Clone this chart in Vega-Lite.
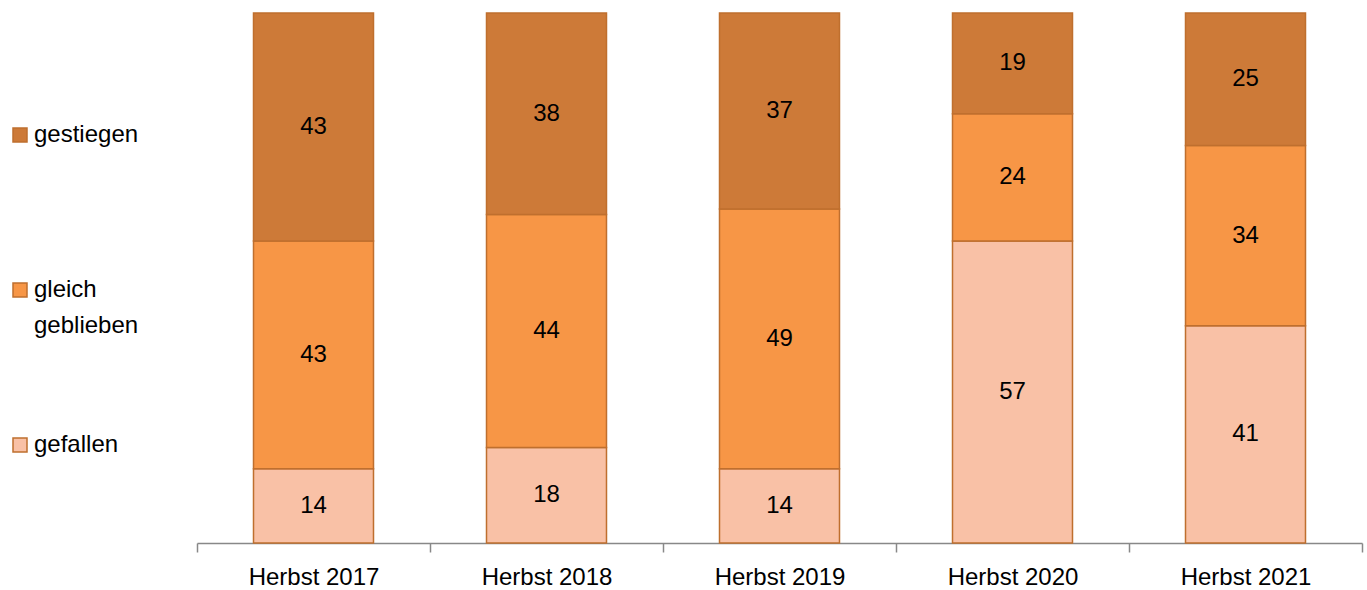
{
  "$schema": "https://vega.github.io/schema/vega-lite/v6.json",
  "width": 1165,
  "height": 530,
  "autosize": {"type": "none"},
  "padding": {"left": 197, "top": 13, "right": 5, "bottom": 47},
  "background": "white",
  "config": {
    "view": {"stroke": null},
    "font": "Liberation Sans",
    "style": {"guide-label": {"lineHeight": 36}}
  },
  "data": {
    "values": [
      {"periode": "Herbst 2017", "kategorie": "gefallen", "ord": 1, "wert": 14},
      {"periode": "Herbst 2017", "kategorie": "gleich geblieben", "ord": 2, "wert": 43},
      {"periode": "Herbst 2017", "kategorie": "gestiegen", "ord": 3, "wert": 43},
      {"periode": "Herbst 2018", "kategorie": "gefallen", "ord": 1, "wert": 18},
      {"periode": "Herbst 2018", "kategorie": "gleich geblieben", "ord": 2, "wert": 44},
      {"periode": "Herbst 2018", "kategorie": "gestiegen", "ord": 3, "wert": 38},
      {"periode": "Herbst 2019", "kategorie": "gefallen", "ord": 1, "wert": 14},
      {"periode": "Herbst 2019", "kategorie": "gleich geblieben", "ord": 2, "wert": 49},
      {"periode": "Herbst 2019", "kategorie": "gestiegen", "ord": 3, "wert": 37},
      {"periode": "Herbst 2020", "kategorie": "gefallen", "ord": 1, "wert": 57},
      {"periode": "Herbst 2020", "kategorie": "gleich geblieben", "ord": 2, "wert": 24},
      {"periode": "Herbst 2020", "kategorie": "gestiegen", "ord": 3, "wert": 19},
      {"periode": "Herbst 2021", "kategorie": "gefallen", "ord": 1, "wert": 41},
      {"periode": "Herbst 2021", "kategorie": "gleich geblieben", "ord": 2, "wert": 34},
      {"periode": "Herbst 2021", "kategorie": "gestiegen", "ord": 3, "wert": 25}
    ]
  },
  "transform": [
    {"stack": "wert", "groupby": ["periode"], "sort": [{"field": "ord", "order": "ascending"}], "as": ["y0", "y1"]},
    {"calculate": "(datum.y0 + datum.y1) / 2", "as": "ymid"}
  ],
  "encoding": {
    "x": {
      "field": "periode",
      "type": "nominal",
      "sort": null,
      "scale": {"paddingInner": 0, "paddingOuter": 0},
      "axis": {
        "title": null,
        "labelAngle": 0,
        "labelFont": "Liberation Sans",
        "labelFontSize": 24,
        "labelColor": "#000000",
        "labelPadding": 13,
        "domainColor": "#888888",
        "domainWidth": 1.5,
        "tickColor": "#888888",
        "tickWidth": 1.5,
        "tickSize": 9,
        "tickBand": "extent"
      }
    }
  },
  "layer": [
    {
      "mark": {"type": "bar", "stroke": "#BF6F2E", "strokeWidth": 1.5, "width": {"band": 0.515}},
      "encoding": {
        "y": {"field": "y0", "type": "quantitative", "scale": {"domain": [0, 100]}, "axis": null},
        "y2": {"field": "y1"},
        "color": {
          "field": "kategorie",
          "type": "nominal",
          "scale": {
            "domain": ["gestiegen", "gleich geblieben", "gefallen"],
            "range": ["#CD7A38", "#F79646", "#F9C1A6"]
          },
          "legend": {
            "title": null,
            "orient": "none",
            "legendX": -189,
            "legendY": 110,
            "direction": "vertical",
            "symbolType": "square",
            "symbolSize": 196,
            "symbolStrokeColor": "#BF6F2E",
            "symbolStrokeWidth": 1.5,
            "symbolOpacity": 1,
            "labelFont": "Liberation Sans",
            "labelFontSize": 24,
            "labelColor": "#000000",
            "labelOffset": 2,
            "labelLimit": 200,
            "rowPadding": 95,
            "labelExpr": "datum.label == 'gleich geblieben' ? ['gleich', 'geblieben'] : [datum.label, '']"
          }
        }
      }
    },
    {
      "mark": {"type": "text", "font": "Liberation Sans", "fontSize": 24, "color": "#000000"},
      "encoding": {
        "y": {"field": "ymid", "type": "quantitative", "scale": {"domain": [0, 100]}},
        "text": {"field": "wert", "type": "quantitative"}
      }
    }
  ]
}
